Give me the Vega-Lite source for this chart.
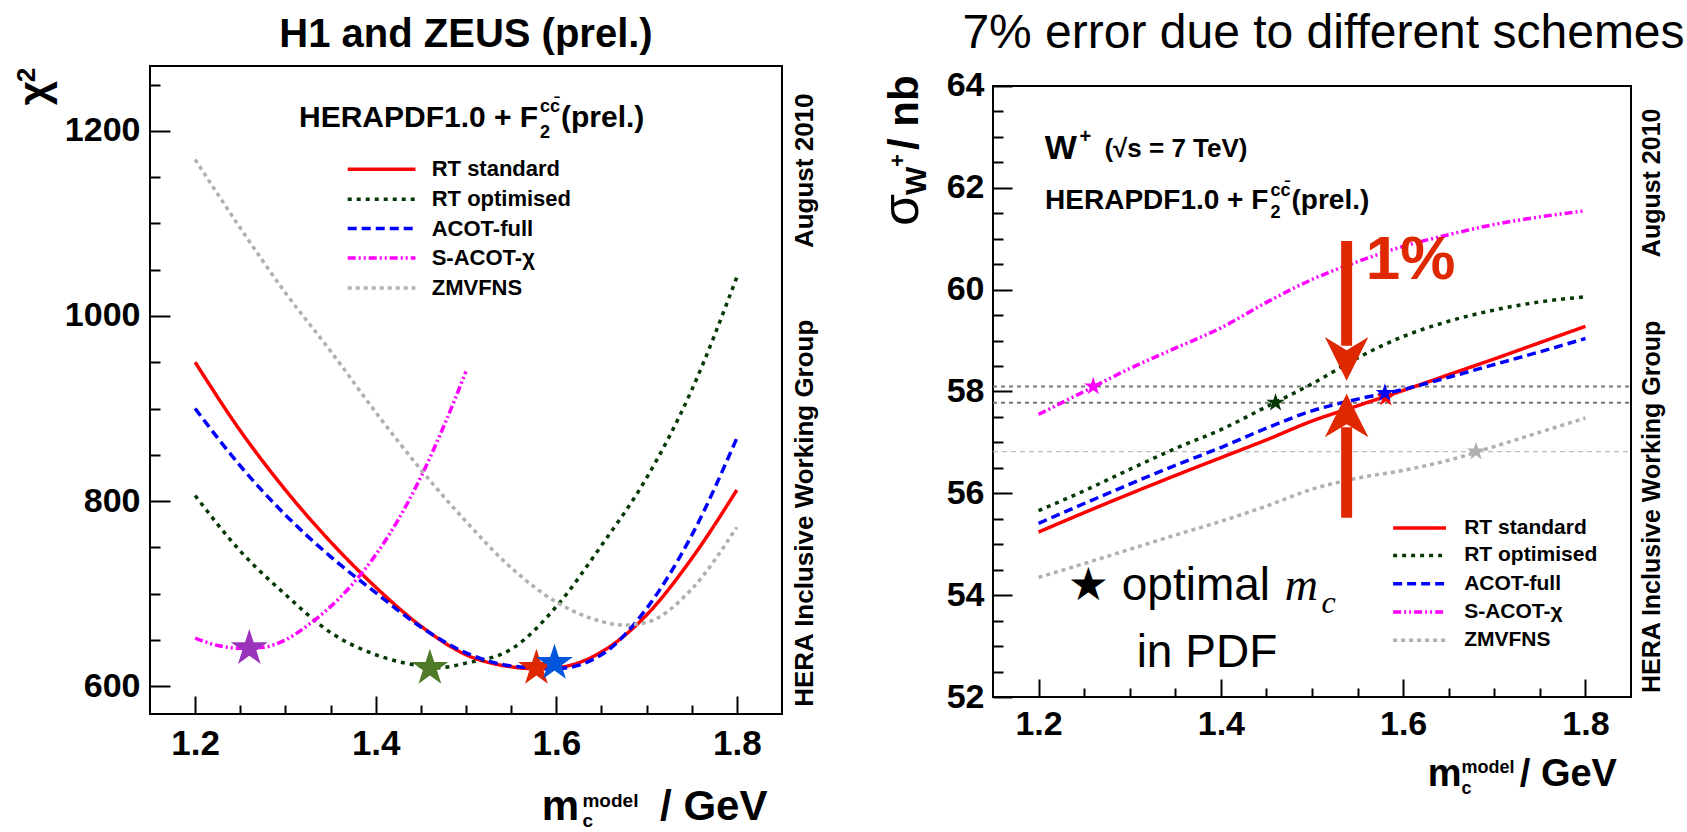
{
"$schema": "https://vega.github.io/schema/vega-lite/v6.json",
"autosize": {"type": "none"},
"width": 1687, "height": 832,
"padding": 0,
"background": "white",
"config": {
  "view": {"stroke": null},
  "axis": {"grid": false, "domain": false, "tickColor": "black", "tickWidth": 2, "labelColor": "black", "labelFont": "Liberation Sans", "labelFontWeight": "bold"}
},
"datasets": {
  "chi2": [
    {"s":"RT standard","x":1.2,"y":950},{"s":"RT standard","x":1.25,"y":876},{"s":"RT standard","x":1.3,"y":812},{"s":"RT standard","x":1.35,"y":756},{"s":"RT standard","x":1.4,"y":707},{"s":"RT standard","x":1.45,"y":665},{"s":"RT standard","x":1.5,"y":634},{"s":"RT standard","x":1.55,"y":621},{"s":"RT standard","x":1.575,"y":619},{"s":"RT standard","x":1.6,"y":620},{"s":"RT standard","x":1.65,"y":637},{"s":"RT standard","x":1.7,"y":677},{"s":"RT standard","x":1.75,"y":738},{"s":"RT standard","x":1.8,"y":812},
    {"s":"RT optimised","x":1.2,"y":806},{"s":"RT optimised","x":1.25,"y":746},{"s":"RT optimised","x":1.3,"y":699},{"s":"RT optimised","x":1.35,"y":658},{"s":"RT optimised","x":1.4,"y":634},{"s":"RT optimised","x":1.45,"y":622},{"s":"RT optimised","x":1.47,"y":620},{"s":"RT optimised","x":1.5,"y":625},{"s":"RT optimised","x":1.55,"y":640},{"s":"RT optimised","x":1.6,"y":686},{"s":"RT optimised","x":1.65,"y":752},{"s":"RT optimised","x":1.7,"y":825},{"s":"RT optimised","x":1.75,"y":920},{"s":"RT optimised","x":1.8,"y":1042},
    {"s":"ACOT-full","x":1.2,"y":900},{"s":"ACOT-full","x":1.25,"y":838},{"s":"ACOT-full","x":1.3,"y":785},{"s":"ACOT-full","x":1.35,"y":740},{"s":"ACOT-full","x":1.4,"y":701},{"s":"ACOT-full","x":1.45,"y":664},{"s":"ACOT-full","x":1.5,"y":636},{"s":"ACOT-full","x":1.55,"y":622},{"s":"ACOT-full","x":1.6,"y":619},{"s":"ACOT-full","x":1.65,"y":634},{"s":"ACOT-full","x":1.7,"y":684},{"s":"ACOT-full","x":1.75,"y":763},{"s":"ACOT-full","x":1.8,"y":868},
    {"s":"S-ACOT-χ","x":1.2,"y":652},{"s":"S-ACOT-χ","x":1.225,"y":644},{"s":"S-ACOT-χ","x":1.25,"y":641},{"s":"S-ACOT-χ","x":1.275,"y":642},{"s":"S-ACOT-χ","x":1.3,"y":650},{"s":"S-ACOT-χ","x":1.325,"y":666},{"s":"S-ACOT-χ","x":1.35,"y":686},{"s":"S-ACOT-χ","x":1.375,"y":711},{"s":"S-ACOT-χ","x":1.4,"y":742},{"s":"S-ACOT-χ","x":1.425,"y":780},{"s":"S-ACOT-χ","x":1.45,"y":826},{"s":"S-ACOT-χ","x":1.475,"y":880},{"s":"S-ACOT-χ","x":1.5,"y":940},
    {"s":"ZMVFNS","x":1.2,"y":1169},{"s":"ZMVFNS","x":1.25,"y":1095},{"s":"ZMVFNS","x":1.3,"y":1025},{"s":"ZMVFNS","x":1.35,"y":962},{"s":"ZMVFNS","x":1.4,"y":896},{"s":"ZMVFNS","x":1.45,"y":834},{"s":"ZMVFNS","x":1.5,"y":778},{"s":"ZMVFNS","x":1.55,"y":728},{"s":"ZMVFNS","x":1.6,"y":691},{"s":"ZMVFNS","x":1.65,"y":670},{"s":"ZMVFNS","x":1.675,"y":666},{"s":"ZMVFNS","x":1.7,"y":669},{"s":"ZMVFNS","x":1.75,"y":705},{"s":"ZMVFNS","x":1.8,"y":772}
  ],
  "sigma": [
    {"s":"RT standard","x":1.2,"y":55.24},{"s":"RT standard","x":1.25,"y":55.62},{"s":"RT standard","x":1.3,"y":55.99},{"s":"RT standard","x":1.35,"y":56.35},{"s":"RT standard","x":1.4,"y":56.7},{"s":"RT standard","x":1.45,"y":57.05},{"s":"RT standard","x":1.5,"y":57.42},{"s":"RT standard","x":1.55,"y":57.72},{"s":"RT standard","x":1.6,"y":58.02},{"s":"RT standard","x":1.65,"y":58.33},{"s":"RT standard","x":1.7,"y":58.64},{"s":"RT standard","x":1.75,"y":58.96},{"s":"RT standard","x":1.8,"y":59.28},
    {"s":"RT optimised","x":1.2,"y":55.66},{"s":"RT optimised","x":1.25,"y":56.05},{"s":"RT optimised","x":1.3,"y":56.47},{"s":"RT optimised","x":1.35,"y":56.88},{"s":"RT optimised","x":1.4,"y":57.25},{"s":"RT optimised","x":1.45,"y":57.7},{"s":"RT optimised","x":1.5,"y":58.15},{"s":"RT optimised","x":1.55,"y":58.66},{"s":"RT optimised","x":1.6,"y":59.08},{"s":"RT optimised","x":1.65,"y":59.38},{"s":"RT optimised","x":1.7,"y":59.6},{"s":"RT optimised","x":1.75,"y":59.76},{"s":"RT optimised","x":1.8,"y":59.86},
    {"s":"ACOT-full","x":1.2,"y":55.41},{"s":"ACOT-full","x":1.25,"y":55.8},{"s":"ACOT-full","x":1.3,"y":56.18},{"s":"ACOT-full","x":1.35,"y":56.55},{"s":"ACOT-full","x":1.4,"y":56.9},{"s":"ACOT-full","x":1.45,"y":57.28},{"s":"ACOT-full","x":1.5,"y":57.62},{"s":"ACOT-full","x":1.55,"y":57.85},{"s":"ACOT-full","x":1.6,"y":58.04},{"s":"ACOT-full","x":1.65,"y":58.28},{"s":"ACOT-full","x":1.7,"y":58.53},{"s":"ACOT-full","x":1.75,"y":58.78},{"s":"ACOT-full","x":1.8,"y":59.04},
    {"s":"S-ACOT-χ","x":1.2,"y":57.55},{"s":"S-ACOT-χ","x":1.25,"y":58.0},{"s":"S-ACOT-χ","x":1.3,"y":58.45},{"s":"S-ACOT-χ","x":1.35,"y":58.85},{"s":"S-ACOT-χ","x":1.4,"y":59.25},{"s":"S-ACOT-χ","x":1.45,"y":59.75},{"s":"S-ACOT-χ","x":1.5,"y":60.2},{"s":"S-ACOT-χ","x":1.55,"y":60.55},{"s":"S-ACOT-χ","x":1.6,"y":60.85},{"s":"S-ACOT-χ","x":1.65,"y":61.08},{"s":"S-ACOT-χ","x":1.7,"y":61.28},{"s":"S-ACOT-χ","x":1.75,"y":61.43},{"s":"S-ACOT-χ","x":1.8,"y":61.55},
    {"s":"ZMVFNS","x":1.2,"y":54.35},{"s":"ZMVFNS","x":1.25,"y":54.62},{"s":"ZMVFNS","x":1.3,"y":54.9},{"s":"ZMVFNS","x":1.35,"y":55.18},{"s":"ZMVFNS","x":1.4,"y":55.45},{"s":"ZMVFNS","x":1.45,"y":55.75},{"s":"ZMVFNS","x":1.5,"y":56.08},{"s":"ZMVFNS","x":1.55,"y":56.3},{"s":"ZMVFNS","x":1.6,"y":56.45},{"s":"ZMVFNS","x":1.65,"y":56.65},{"s":"ZMVFNS","x":1.7,"y":56.92},{"s":"ZMVFNS","x":1.75,"y":57.2},{"s":"ZMVFNS","x":1.8,"y":57.48}
  ],
  "legL": [
    {"s":"RT standard","x1":1.369,"x2":1.444,"tx":1.462,"y":1158.4},
    {"s":"RT optimised","x1":1.369,"x2":1.444,"tx":1.462,"y":1126.0},
    {"s":"ACOT-full","x1":1.369,"x2":1.444,"tx":1.462,"y":1094.4},
    {"s":"S-ACOT-χ","x1":1.369,"x2":1.444,"tx":1.462,"y":1062.6},
    {"s":"ZMVFNS","x1":1.369,"x2":1.444,"tx":1.462,"y":1030.2}
  ],
  "legR": [
    {"s":"RT standard","x1":1.589,"x2":1.647,"tx":1.667,"y":55.32},
    {"s":"RT optimised","x1":1.589,"x2":1.647,"tx":1.667,"y":54.78},
    {"s":"ACOT-full","x1":1.589,"x2":1.647,"tx":1.667,"y":54.225},
    {"s":"S-ACOT-χ","x1":1.589,"x2":1.647,"tx":1.667,"y":53.67},
    {"s":"ZMVFNS","x1":1.589,"x2":1.647,"tx":1.667,"y":53.114}
  ]
},
"resolve": {"scale": {"x": "independent", "y": "independent", "fill": "independent"}, "axis": {"x": "independent", "y": "independent"}},
"layer": [
{
  "resolve": {"axis": {"x": "independent", "y": "independent"}},
  "layer": [
    {"data": {"values": [{"x":1.15,"x2":1.85,"y":570,"y2":1270}]},
     "mark": {"type": "rect", "fill": null, "fillOpacity": 0, "stroke": "black", "strokeWidth": 2},
     "encoding": {
       "x": {"field": "x", "type": "quantitative", "scale": {"domain": [0.983861, 2.852374], "nice": false, "zero": false}, "axis": null},
       "x2": {"field": "x2"},
       "y": {"field": "y", "type": "quantitative", "scale": {"domain": [442.531, 1341.296], "nice": false, "zero": false}, "axis": null},
       "y2": {"field": "y2"}
     }},
    {"data": {"name": "chi2"},
     "mark": {"type": "line", "interpolate": "monotone", "strokeWidth": 3.5, "strokeCap": "butt"},
     "encoding": {
       "x": {"field": "x", "type": "quantitative", "scale": {"domain": [0.983861, 2.852374], "nice": false, "zero": false}, "axis": {"orient": "bottom", "offset": -118, "values": [1.2, 1.4, 1.6, 1.8], "format": ".1f", "tickSize": -18, "labelPadding": 30, "labelFontSize": 35, "title": null}},
       "y": {"field": "y", "type": "quantitative", "scale": {"domain": [442.531, 1341.296], "nice": false, "zero": false}, "axis": {"orient": "left", "offset": -150, "values": [600, 800, 1000, 1200], "format": "d", "tickSize": -20, "labelPadding": 30, "labelFontSize": 34, "title": null}},
       "color": {"field": "s", "type": "nominal", "scale": {"domain": ["RT standard","RT optimised","ACOT-full","S-ACOT-χ","ZMVFNS"], "range": ["#ff0000","#053805","#0000ff","#ff00ff","#b0b0b0"]}, "legend": null},
       "strokeDash": {"field": "s", "type": "nominal", "scale": {"domain": ["RT standard","RT optimised","ACOT-full","S-ACOT-χ","ZMVFNS"], "range": [[1,0],[4,5],[9,5],[8,3,2,3,2,3],[4,4]]}, "legend": null}
     }},
    {"data": {"name": "legL"},
     "mark": {"type": "rule", "strokeWidth": 3.5, "strokeCap": "butt"},
     "encoding": {
       "x": {"field": "x1", "type": "quantitative", "scale": {"domain": [0.983861, 2.852374], "nice": false, "zero": false}, "axis": null},
       "x2": {"field": "x2"},
       "y": {"field": "y", "type": "quantitative", "scale": {"domain": [442.531, 1341.296], "nice": false, "zero": false}, "axis": null},
       "color": {"field": "s", "type": "nominal", "legend": null},
       "strokeDash": {"field": "s", "type": "nominal", "legend": null}
     }},
    {"data": {"name": "legL"},
     "mark": {"type": "text", "font": "Liberation Sans", "fontWeight": "bold", "fontSize": 22, "align": "left", "baseline": "middle", "color": "black"},
     "encoding": {
       "x": {"field": "tx", "type": "quantitative", "scale": {"domain": [0.983861, 2.852374], "nice": false, "zero": false}, "axis": null},
       "y": {"field": "y", "type": "quantitative", "scale": {"domain": [442.531, 1341.296], "nice": false, "zero": false}, "axis": null},
       "text": {"field": "s"}
     }},
    {"data": {"values": [{"s":"S-ACOT-χ","x":1.26,"y":641},{"s":"RT optimised","x":1.46,"y":619.7},{"s":"RT standard","x":1.578,"y":619.7},{"s":"ACOT-full","x":1.598,"y":625}]},
     "mark": {"type": "point", "shape": "M0,-1L0.2245,-0.309L0.9511,-0.309L0.3633,0.118L0.5878,0.809L0,0.382L-0.5878,0.809L-0.3633,0.118L-0.9511,-0.309L-0.2245,-0.309Z", "filled": true, "size": 1500, "opacity": 1},
     "encoding": {
       "x": {"field": "x", "type": "quantitative", "scale": {"domain": [0.983861, 2.852374], "nice": false, "zero": false}, "axis": {"orient": "bottom", "offset": -118, "values": [1.25,1.3,1.35,1.45,1.5,1.55,1.65,1.7,1.75], "labels": false, "tickSize": -9, "title": null}},
       "y": {"field": "y", "type": "quantitative", "scale": {"domain": [442.531, 1341.296], "nice": false, "zero": false}, "axis": {"orient": "left", "offset": -150, "values": [650,700,750,850,900,950,1050,1100,1150,1250], "labels": false, "tickSize": -10, "title": null}},
       "fill": {"field": "s", "type": "nominal", "scale": {"domain": ["S-ACOT-χ","RT optimised","RT standard","ACOT-full"], "range": ["#9933bb","#4f7a28","#e02800","#0055dd"]}, "legend": null}
     }},
    {"data": {"values": [{"x":1.5,"y":1290,"t":"H1 and ZEUS (prel.)"}]},
     "mark": {"type": "text", "font": "Liberation Sans", "fontWeight": "bold", "fontSize": 40, "align": "center", "baseline": "alphabetic"},
     "encoding": {"x": {"field": "x", "type": "quantitative", "scale": {"domain": [0.983861, 2.852374], "nice": false, "zero": false}, "axis": null}, "y": {"field": "y", "type": "quantitative", "scale": {"domain": [442.531, 1341.296], "nice": false, "zero": false}, "axis": null}, "text": {"field": "t"}}},
    {"data": {"values": [{"x":1.315,"y":1203.8,"t":"HERAPDF1.0 + F"},{"x":1.6052,"y":1203.8,"t":"(prel.)"}]},
     "mark": {"type": "text", "font": "Liberation Sans", "fontWeight": "bold", "fontSize": 30, "align": "left", "baseline": "alphabetic"},
     "encoding": {"x": {"field": "x", "type": "quantitative", "scale": {"domain": [0.983861, 2.852374], "nice": false, "zero": false}, "axis": null}, "y": {"field": "y", "type": "quantitative", "scale": {"domain": [442.531, 1341.296], "nice": false, "zero": false}, "axis": null}, "text": {"field": "t"}}},
    {"data": {"values": [{"x":1.5819,"y":1191.9,"t":"2"},{"x":1.5819,"y":1220,"t":"cc̄"}]},
     "mark": {"type": "text", "font": "Liberation Sans", "fontWeight": "bold", "fontSize": 18, "align": "left", "baseline": "alphabetic"},
     "encoding": {"x": {"field": "x", "type": "quantitative", "scale": {"domain": [0.983861, 2.852374], "nice": false, "zero": false}, "axis": null}, "y": {"field": "y", "type": "quantitative", "scale": {"domain": [442.531, 1341.296], "nice": false, "zero": false}, "axis": null}, "text": {"field": "t"}}},
    {"data": {"values": [{"x":1.875,"y":1156.8,"t":"August 2010"},{"x":1.875,"y":786.9,"t":"HERA Inclusive Working Group"}]},
     "mark": {"type": "text", "font": "Liberation Sans", "fontWeight": "bold", "fontSize": 26, "align": "center", "baseline": "middle", "angle": 270},
     "encoding": {"x": {"field": "x", "type": "quantitative", "scale": {"domain": [0.983861, 2.852374], "nice": false, "zero": false}, "axis": null}, "y": {"field": "y", "type": "quantitative", "scale": {"domain": [442.531, 1341.296], "nice": false, "zero": false}, "axis": null}, "text": {"field": "t"}}},
    {"data": {"values": [{"x":1.0368,"y":1227.6,"t":"χ"}]},
     "mark": {"type": "text", "font": "Liberation Sans", "fontWeight": "bold", "fontSize": 42, "align": "left", "baseline": "alphabetic", "angle": 270},
     "encoding": {"x": {"field": "x", "type": "quantitative", "scale": {"domain": [0.983861, 2.852374], "nice": false, "zero": false}, "axis": null}, "y": {"field": "y", "type": "quantitative", "scale": {"domain": [442.531, 1341.296], "nice": false, "zero": false}, "axis": null}, "text": {"field": "t"}}},
    {"data": {"values": [{"x":1.0224,"y":1252.4,"t":"2"}]},
     "mark": {"type": "text", "font": "Liberation Sans", "fontWeight": "bold", "fontSize": 26, "align": "left", "baseline": "alphabetic", "angle": 270},
     "encoding": {"x": {"field": "x", "type": "quantitative", "scale": {"domain": [0.983861, 2.852374], "nice": false, "zero": false}, "axis": null}, "y": {"field": "y", "type": "quantitative", "scale": {"domain": [442.531, 1341.296], "nice": false, "zero": false}, "axis": null}, "text": {"field": "t"}}},
    {"data": {"values": [{"x":1.584,"y":455.3,"t":"m"},{"x":1.715,"y":455.3,"t":"/ GeV"}]},
     "mark": {"type": "text", "font": "Liberation Sans", "fontWeight": "bold", "fontSize": 42, "align": "left", "baseline": "alphabetic"},
     "encoding": {"x": {"field": "x", "type": "quantitative", "scale": {"domain": [0.983861, 2.852374], "nice": false, "zero": false}, "axis": null}, "y": {"field": "y", "type": "quantitative", "scale": {"domain": [442.531, 1341.296], "nice": false, "zero": false}, "axis": null}, "text": {"field": "t"}}},
    {"data": {"values": [{"x":1.629,"y":469.3,"t":"model"},{"x":1.629,"y":447.7,"t":"c"}]},
     "mark": {"type": "text", "font": "Liberation Sans", "fontWeight": "bold", "fontSize": 19, "align": "left", "baseline": "alphabetic"},
     "encoding": {"x": {"field": "x", "type": "quantitative", "scale": {"domain": [0.983861, 2.852374], "nice": false, "zero": false}, "axis": null}, "y": {"field": "y", "type": "quantitative", "scale": {"domain": [442.531, 1341.296], "nice": false, "zero": false}, "axis": null}, "text": {"field": "t"}}}
  ]
},
{
  "resolve": {"axis": {"x": "independent", "y": "independent"}},
  "layer": [
    {"data": {"values": [{"x":1.15,"x2":1.85,"y":52,"y2":64}]},
     "mark": {"type": "rect", "fill": null, "fillOpacity": 0, "stroke": "black", "strokeWidth": 2},
     "encoding": {
       "x": {"field": "x", "type": "quantitative", "scale": {"domain": [0.060502, 1.911442], "nice": false, "zero": false}, "axis": null},
       "x2": {"field": "x2"},
       "y": {"field": "y", "type": "quantitative", "scale": {"domain": [49.34861, 65.68903], "nice": false, "zero": false}, "axis": null},
       "y2": {"field": "y2"}
     }},
    {"data": {"values": [{"x":1.15,"x2":1.85,"y":58.1},{"x":1.15,"x2":1.85,"y":57.78}]},
     "mark": {"type": "rule", "color": "#777777", "strokeWidth": 2, "strokeDash": [4, 4]},
     "encoding": {
       "x": {"field": "x", "type": "quantitative", "scale": {"domain": [0.060502, 1.911442], "nice": false, "zero": false}, "axis": null},
       "x2": {"field": "x2"},
       "y": {"field": "y", "type": "quantitative", "scale": {"domain": [49.34861, 65.68903], "nice": false, "zero": false}, "axis": null}}},
    {"data": {"values": [{"x":1.15,"x2":1.85,"y":56.82}]},
     "mark": {"type": "rule", "color": "#bbbbbb", "strokeWidth": 1.2, "strokeDash": [5, 4]},
     "encoding": {
       "x": {"field": "x", "type": "quantitative", "scale": {"domain": [0.060502, 1.911442], "nice": false, "zero": false}, "axis": null},
       "x2": {"field": "x2"},
       "y": {"field": "y", "type": "quantitative", "scale": {"domain": [49.34861, 65.68903], "nice": false, "zero": false}, "axis": null}}},
    {"data": {"name": "sigma"},
     "mark": {"type": "line", "interpolate": "monotone", "strokeWidth": 3.5, "strokeCap": "butt"},
     "encoding": {
       "x": {"field": "x", "type": "quantitative", "scale": {"domain": [0.060502, 1.911442], "nice": false, "zero": false}, "axis": {"orient": "bottom", "offset": -135, "values": [1.2, 1.4, 1.6, 1.8], "format": ".1f", "tickSize": -18, "labelPadding": 28, "labelFontSize": 34, "title": null}},
       "y": {"field": "y", "type": "quantitative", "scale": {"domain": [49.34861, 65.68903], "nice": false, "zero": false}, "axis": {"orient": "left", "offset": -993, "values": [52, 54, 56, 58, 60, 62, 64], "format": "d", "tickSize": -19, "labelPadding": 28, "labelFontSize": 34, "title": null}},
       "color": {"field": "s", "type": "nominal", "scale": {"domain": ["RT standard","RT optimised","ACOT-full","S-ACOT-χ","ZMVFNS"], "range": ["#ff0000","#053805","#0000ff","#ff00ff","#b0b0b0"]}, "legend": null},
       "strokeDash": {"field": "s", "type": "nominal", "scale": {"domain": ["RT standard","RT optimised","ACOT-full","S-ACOT-χ","ZMVFNS"], "range": [[1,0],[4,5],[9,5],[8,3,2,3,2,3],[4,4]]}, "legend": null}
     }},
    {"data": {"name": "legR"},
     "mark": {"type": "rule", "strokeWidth": 3.5, "strokeCap": "butt"},
     "encoding": {
       "x": {"field": "x1", "type": "quantitative", "scale": {"domain": [0.060502, 1.911442], "nice": false, "zero": false}, "axis": null},
       "x2": {"field": "x2"},
       "y": {"field": "y", "type": "quantitative", "scale": {"domain": [49.34861, 65.68903], "nice": false, "zero": false}, "axis": null},
       "color": {"field": "s", "type": "nominal", "legend": null},
       "strokeDash": {"field": "s", "type": "nominal", "legend": null}
     }},
    {"data": {"name": "legR"},
     "mark": {"type": "text", "font": "Liberation Sans", "fontWeight": "bold", "fontSize": 21, "align": "left", "baseline": "middle", "color": "black"},
     "encoding": {
       "x": {"field": "tx", "type": "quantitative", "scale": {"domain": [0.060502, 1.911442], "nice": false, "zero": false}, "axis": null},
       "y": {"field": "y", "type": "quantitative", "scale": {"domain": [49.34861, 65.68903], "nice": false, "zero": false}, "axis": null},
       "text": {"field": "s"}
     }},
    {"data": {"values": [{"s":"S-ACOT-χ","x":1.26,"y":58.1},{"s":"RT optimised","x":1.46,"y":57.78},{"s":"RT standard","x":1.581,"y":57.88},{"s":"ACOT-full","x":1.58,"y":57.97},{"s":"ZMVFNS","x":1.68,"y":56.82}]},
     "mark": {"type": "point", "shape": "M0,-1L0.2245,-0.309L0.9511,-0.309L0.3633,0.118L0.5878,0.809L0,0.382L-0.5878,0.809L-0.3633,0.118L-0.9511,-0.309L-0.2245,-0.309Z", "filled": true, "size": 380, "opacity": 1},
     "encoding": {
       "x": {"field": "x", "type": "quantitative", "scale": {"domain": [0.060502, 1.911442], "nice": false, "zero": false}, "axis": {"orient": "bottom", "offset": -135, "values": [1.25,1.3,1.35,1.45,1.5,1.55,1.65,1.7,1.75], "labels": false, "tickSize": -9, "title": null}},
       "y": {"field": "y", "type": "quantitative", "scale": {"domain": [49.34861, 65.68903], "nice": false, "zero": false}, "axis": {"orient": "left", "offset": -993, "values": [52.5,53,53.5,54.5,55,55.5,56.5,57,57.5,58.5,59,59.5,60.5,61,61.5,62.5,63,63.5], "labels": false, "tickSize": -10, "title": null}},
       "fill": {"field": "s", "type": "nominal", "scale": {"domain": ["S-ACOT-χ","RT optimised","RT standard","ACOT-full","ZMVFNS"], "range": ["#ff00ff","#063806","#ff0000","#0000ff","#b0b0b0"]}, "legend": null}
     }},
    {"data": {"values": [{"x":1.538,"y":60.957,"y2":58.9},{"x":1.538,"y":55.52,"y2":57.3}]},
     "mark": {"type": "rule", "color": "#e02800", "strokeWidth": 11, "strokeCap": "butt"},
     "encoding": {
       "x": {"field": "x", "type": "quantitative", "scale": {"domain": [0.060502, 1.911442], "nice": false, "zero": false}, "axis": null},
       "y": {"field": "y", "type": "quantitative", "scale": {"domain": [49.34861, 65.68903], "nice": false, "zero": false}, "axis": null},
       "y2": {"field": "y2"}
     }},
    {"data": {"values": [{"x":1.538,"y":58.64}]},
     "mark": {"type": "point", "shape": "M0,1L-1,-1L0,-0.4L1,-1Z", "filled": true, "size": 1900, "color": "#e02800", "opacity": 1},
     "encoding": {
       "x": {"field": "x", "type": "quantitative", "scale": {"domain": [0.060502, 1.911442], "nice": false, "zero": false}, "axis": null},
       "y": {"field": "y", "type": "quantitative", "scale": {"domain": [49.34861, 65.68903], "nice": false, "zero": false}, "axis": null}
     }},
    {"data": {"values": [{"x":1.538,"y":57.53}]},
     "mark": {"type": "point", "shape": "M0,-1L-1,1L0,0.4L1,1Z", "filled": true, "size": 1900, "color": "#e02800", "opacity": 1},
     "encoding": {
       "x": {"field": "x", "type": "quantitative", "scale": {"domain": [0.060502, 1.911442], "nice": false, "zero": false}, "axis": null},
       "y": {"field": "y", "type": "quantitative", "scale": {"domain": [49.34861, 65.68903], "nice": false, "zero": false}, "axis": null}
     }},
    {"data": {"values": [{"x":1.559,"y":60.206,"t":"1%"}]},
     "mark": {"type": "text", "font": "Liberation Sans", "fontWeight": "bold", "fontSize": 62, "align": "left", "baseline": "alphabetic", "color": "#e02800"},
     "encoding": {"x": {"field": "x", "type": "quantitative", "scale": {"domain": [0.060502, 1.911442], "nice": false, "zero": false}, "axis": null}, "y": {"field": "y", "type": "quantitative", "scale": {"domain": [49.34861, 65.68903], "nice": false, "zero": false}, "axis": null}, "text": {"field": "t"}}},
    {"data": {"values": [{"x":1.5126,"y":64.755,"t":"7% error due to different schemes"}]},
     "mark": {"type": "text", "font": "Liberation Sans", "fontSize": 48, "align": "center", "baseline": "alphabetic"},
     "encoding": {"x": {"field": "x", "type": "quantitative", "scale": {"domain": [0.060502, 1.911442], "nice": false, "zero": false}, "axis": null}, "y": {"field": "y", "type": "quantitative", "scale": {"domain": [49.34861, 65.68903], "nice": false, "zero": false}, "axis": null}, "text": {"field": "t"}}},
    {"data": {"values": [{"x":1.2067,"y":62.559,"t":"W"}]},
     "mark": {"type": "text", "font": "Liberation Sans", "fontWeight": "bold", "fontSize": 34, "align": "left", "baseline": "alphabetic"},
     "encoding": {"x": {"field": "x", "type": "quantitative", "scale": {"domain": [0.060502, 1.911442], "nice": false, "zero": false}, "axis": null}, "y": {"field": "y", "type": "quantitative", "scale": {"domain": [49.34861, 65.68903], "nice": false, "zero": false}, "axis": null}, "text": {"field": "t"}}},
    {"data": {"values": [{"x":1.245,"y":62.89,"t":"+"}]},
     "mark": {"type": "text", "font": "Liberation Sans", "fontWeight": "bold", "fontSize": 20, "align": "left", "baseline": "alphabetic"},
     "encoding": {"x": {"field": "x", "type": "quantitative", "scale": {"domain": [0.060502, 1.911442], "nice": false, "zero": false}, "axis": null}, "y": {"field": "y", "type": "quantitative", "scale": {"domain": [49.34861, 65.68903], "nice": false, "zero": false}, "axis": null}, "text": {"field": "t"}}},
    {"data": {"values": [{"x":1.2722,"y":62.598,"t":"(√s = 7 TeV)"}]},
     "mark": {"type": "text", "font": "Liberation Sans", "fontWeight": "bold", "fontSize": 26, "align": "left", "baseline": "alphabetic"},
     "encoding": {"x": {"field": "x", "type": "quantitative", "scale": {"domain": [0.060502, 1.911442], "nice": false, "zero": false}, "axis": null}, "y": {"field": "y", "type": "quantitative", "scale": {"domain": [49.34861, 65.68903], "nice": false, "zero": false}, "axis": null}, "text": {"field": "t"}}},
    {"data": {"values": [{"x":1.2071,"y":61.578,"t":"HERAPDF1.0 + F"},{"x":1.4775,"y":61.578,"t":"(prel.)"}]},
     "mark": {"type": "text", "font": "Liberation Sans", "fontWeight": "bold", "fontSize": 28, "align": "left", "baseline": "alphabetic"},
     "encoding": {"x": {"field": "x", "type": "quantitative", "scale": {"domain": [0.060502, 1.911442], "nice": false, "zero": false}, "axis": null}, "y": {"field": "y", "type": "quantitative", "scale": {"domain": [49.34861, 65.68903], "nice": false, "zero": false}, "axis": null}, "text": {"field": "t"}}},
    {"data": {"values": [{"x":1.4545,"y":61.40,"t":"2"},{"x":1.4545,"y":61.83,"t":"cc̄"}]},
     "mark": {"type": "text", "font": "Liberation Sans", "fontWeight": "bold", "fontSize": 18, "align": "left", "baseline": "alphabetic"},
     "encoding": {"x": {"field": "x", "type": "quantitative", "scale": {"domain": [0.060502, 1.911442], "nice": false, "zero": false}, "axis": null}, "y": {"field": "y", "type": "quantitative", "scale": {"domain": [49.34861, 65.68903], "nice": false, "zero": false}, "axis": null}, "text": {"field": "t"}}},
    {"data": {"values": [{"x":1.8728,"y":62.098,"t":"August 2010"},{"x":1.8728,"y":55.735,"t":"HERA Inclusive Working Group"}]},
     "mark": {"type": "text", "font": "Liberation Sans", "fontWeight": "bold", "fontSize": 25, "align": "center", "baseline": "middle", "angle": 270},
     "encoding": {"x": {"field": "x", "type": "quantitative", "scale": {"domain": [0.060502, 1.911442], "nice": false, "zero": false}, "axis": null}, "y": {"field": "y", "type": "quantitative", "scale": {"domain": [49.34861, 65.68903], "nice": false, "zero": false}, "axis": null}, "text": {"field": "t"}}},
    {"data": {"values": [{"x":1.0678,"y":61.25,"t":"σ"}]},
     "mark": {"type": "text", "font": "Liberation Sans", "fontSize": 52, "align": "left", "baseline": "alphabetic", "angle": 270},
     "encoding": {"x": {"field": "x", "type": "quantitative", "scale": {"domain": [0.060502, 1.911442], "nice": false, "zero": false}, "axis": null}, "y": {"field": "y", "type": "quantitative", "scale": {"domain": [49.34861, 65.68903], "nice": false, "zero": false}, "axis": null}, "text": {"field": "t"}}},
    {"data": {"values": [{"x":1.0765,"y":61.86,"t":"W"}]},
     "mark": {"type": "text", "font": "Liberation Sans", "fontWeight": "bold", "fontSize": 30, "align": "left", "baseline": "alphabetic", "angle": 270},
     "encoding": {"x": {"field": "x", "type": "quantitative", "scale": {"domain": [0.060502, 1.911442], "nice": false, "zero": false}, "axis": null}, "y": {"field": "y", "type": "quantitative", "scale": {"domain": [49.34861, 65.68903], "nice": false, "zero": false}, "axis": null}, "text": {"field": "t"}}},
    {"data": {"values": [{"x":1.0535,"y":62.41,"t":"+"}]},
     "mark": {"type": "text", "font": "Liberation Sans", "fontWeight": "bold", "fontSize": 22, "align": "left", "baseline": "alphabetic", "angle": 270},
     "encoding": {"x": {"field": "x", "type": "quantitative", "scale": {"domain": [0.060502, 1.911442], "nice": false, "zero": false}, "axis": null}, "y": {"field": "y", "type": "quantitative", "scale": {"domain": [49.34861, 65.68903], "nice": false, "zero": false}, "axis": null}, "text": {"field": "t"}}},
    {"data": {"values": [{"x":1.0678,"y":62.743,"t":"/ nb"}]},
     "mark": {"type": "text", "font": "Liberation Sans", "fontWeight": "bold", "fontSize": 42, "align": "left", "baseline": "alphabetic", "angle": 270},
     "encoding": {"x": {"field": "x", "type": "quantitative", "scale": {"domain": [0.060502, 1.911442], "nice": false, "zero": false}, "axis": null}, "y": {"field": "y", "type": "quantitative", "scale": {"domain": [49.34861, 65.68903], "nice": false, "zero": false}, "axis": null}, "text": {"field": "t"}}},
    {"data": {"values": [{"x":1.627,"y":50.245,"t":"m"},{"x":1.728,"y":50.245,"t":"/ GeV"}]},
     "mark": {"type": "text", "font": "Liberation Sans", "fontWeight": "bold", "fontSize": 38, "align": "left", "baseline": "alphabetic"},
     "encoding": {"x": {"field": "x", "type": "quantitative", "scale": {"domain": [0.060502, 1.911442], "nice": false, "zero": false}, "axis": null}, "y": {"field": "y", "type": "quantitative", "scale": {"domain": [49.34861, 65.68903], "nice": false, "zero": false}, "axis": null}, "text": {"field": "t"}}},
    {"data": {"values": [{"x":1.664,"y":50.5,"t":"model"},{"x":1.664,"y":50.09,"t":"c"}]},
     "mark": {"type": "text", "font": "Liberation Sans", "fontWeight": "bold", "fontSize": 18, "align": "left", "baseline": "alphabetic"},
     "encoding": {"x": {"field": "x", "type": "quantitative", "scale": {"domain": [0.060502, 1.911442], "nice": false, "zero": false}, "axis": null}, "y": {"field": "y", "type": "quantitative", "scale": {"domain": [49.34861, 65.68903], "nice": false, "zero": false}, "axis": null}, "text": {"field": "t"}}},
    {"data": {"values": [{"x":1.232,"y":53.91,"t":"★ optimal"},{"x":1.3076,"y":52.598,"t":"in PDF"}]},
     "mark": {"type": "text", "font": "Liberation Sans, DejaVu Sans", "fontSize": 46, "align": "left", "baseline": "alphabetic"},
     "encoding": {"x": {"field": "x", "type": "quantitative", "scale": {"domain": [0.060502, 1.911442], "nice": false, "zero": false}, "axis": null}, "y": {"field": "y", "type": "quantitative", "scale": {"domain": [49.34861, 65.68903], "nice": false, "zero": false}, "axis": null}, "text": {"field": "t"}}},
    {"data": {"values": [{"x":1.47,"y":53.91,"t":"m"}]},
     "mark": {"type": "text", "font": "Liberation Serif", "fontStyle": "italic", "fontSize": 46, "align": "left", "baseline": "alphabetic"},
     "encoding": {"x": {"field": "x", "type": "quantitative", "scale": {"domain": [0.060502, 1.911442], "nice": false, "zero": false}, "axis": null}, "y": {"field": "y", "type": "quantitative", "scale": {"domain": [49.34861, 65.68903], "nice": false, "zero": false}, "axis": null}, "text": {"field": "t"}}},
    {"data": {"values": [{"x":1.5104,"y":53.64,"t":"c"}]},
     "mark": {"type": "text", "font": "Liberation Serif", "fontStyle": "italic", "fontSize": 32, "align": "left", "baseline": "alphabetic"},
     "encoding": {"x": {"field": "x", "type": "quantitative", "scale": {"domain": [0.060502, 1.911442], "nice": false, "zero": false}, "axis": null}, "y": {"field": "y", "type": "quantitative", "scale": {"domain": [49.34861, 65.68903], "nice": false, "zero": false}, "axis": null}, "text": {"field": "t"}}}
  ]
}
]
}
